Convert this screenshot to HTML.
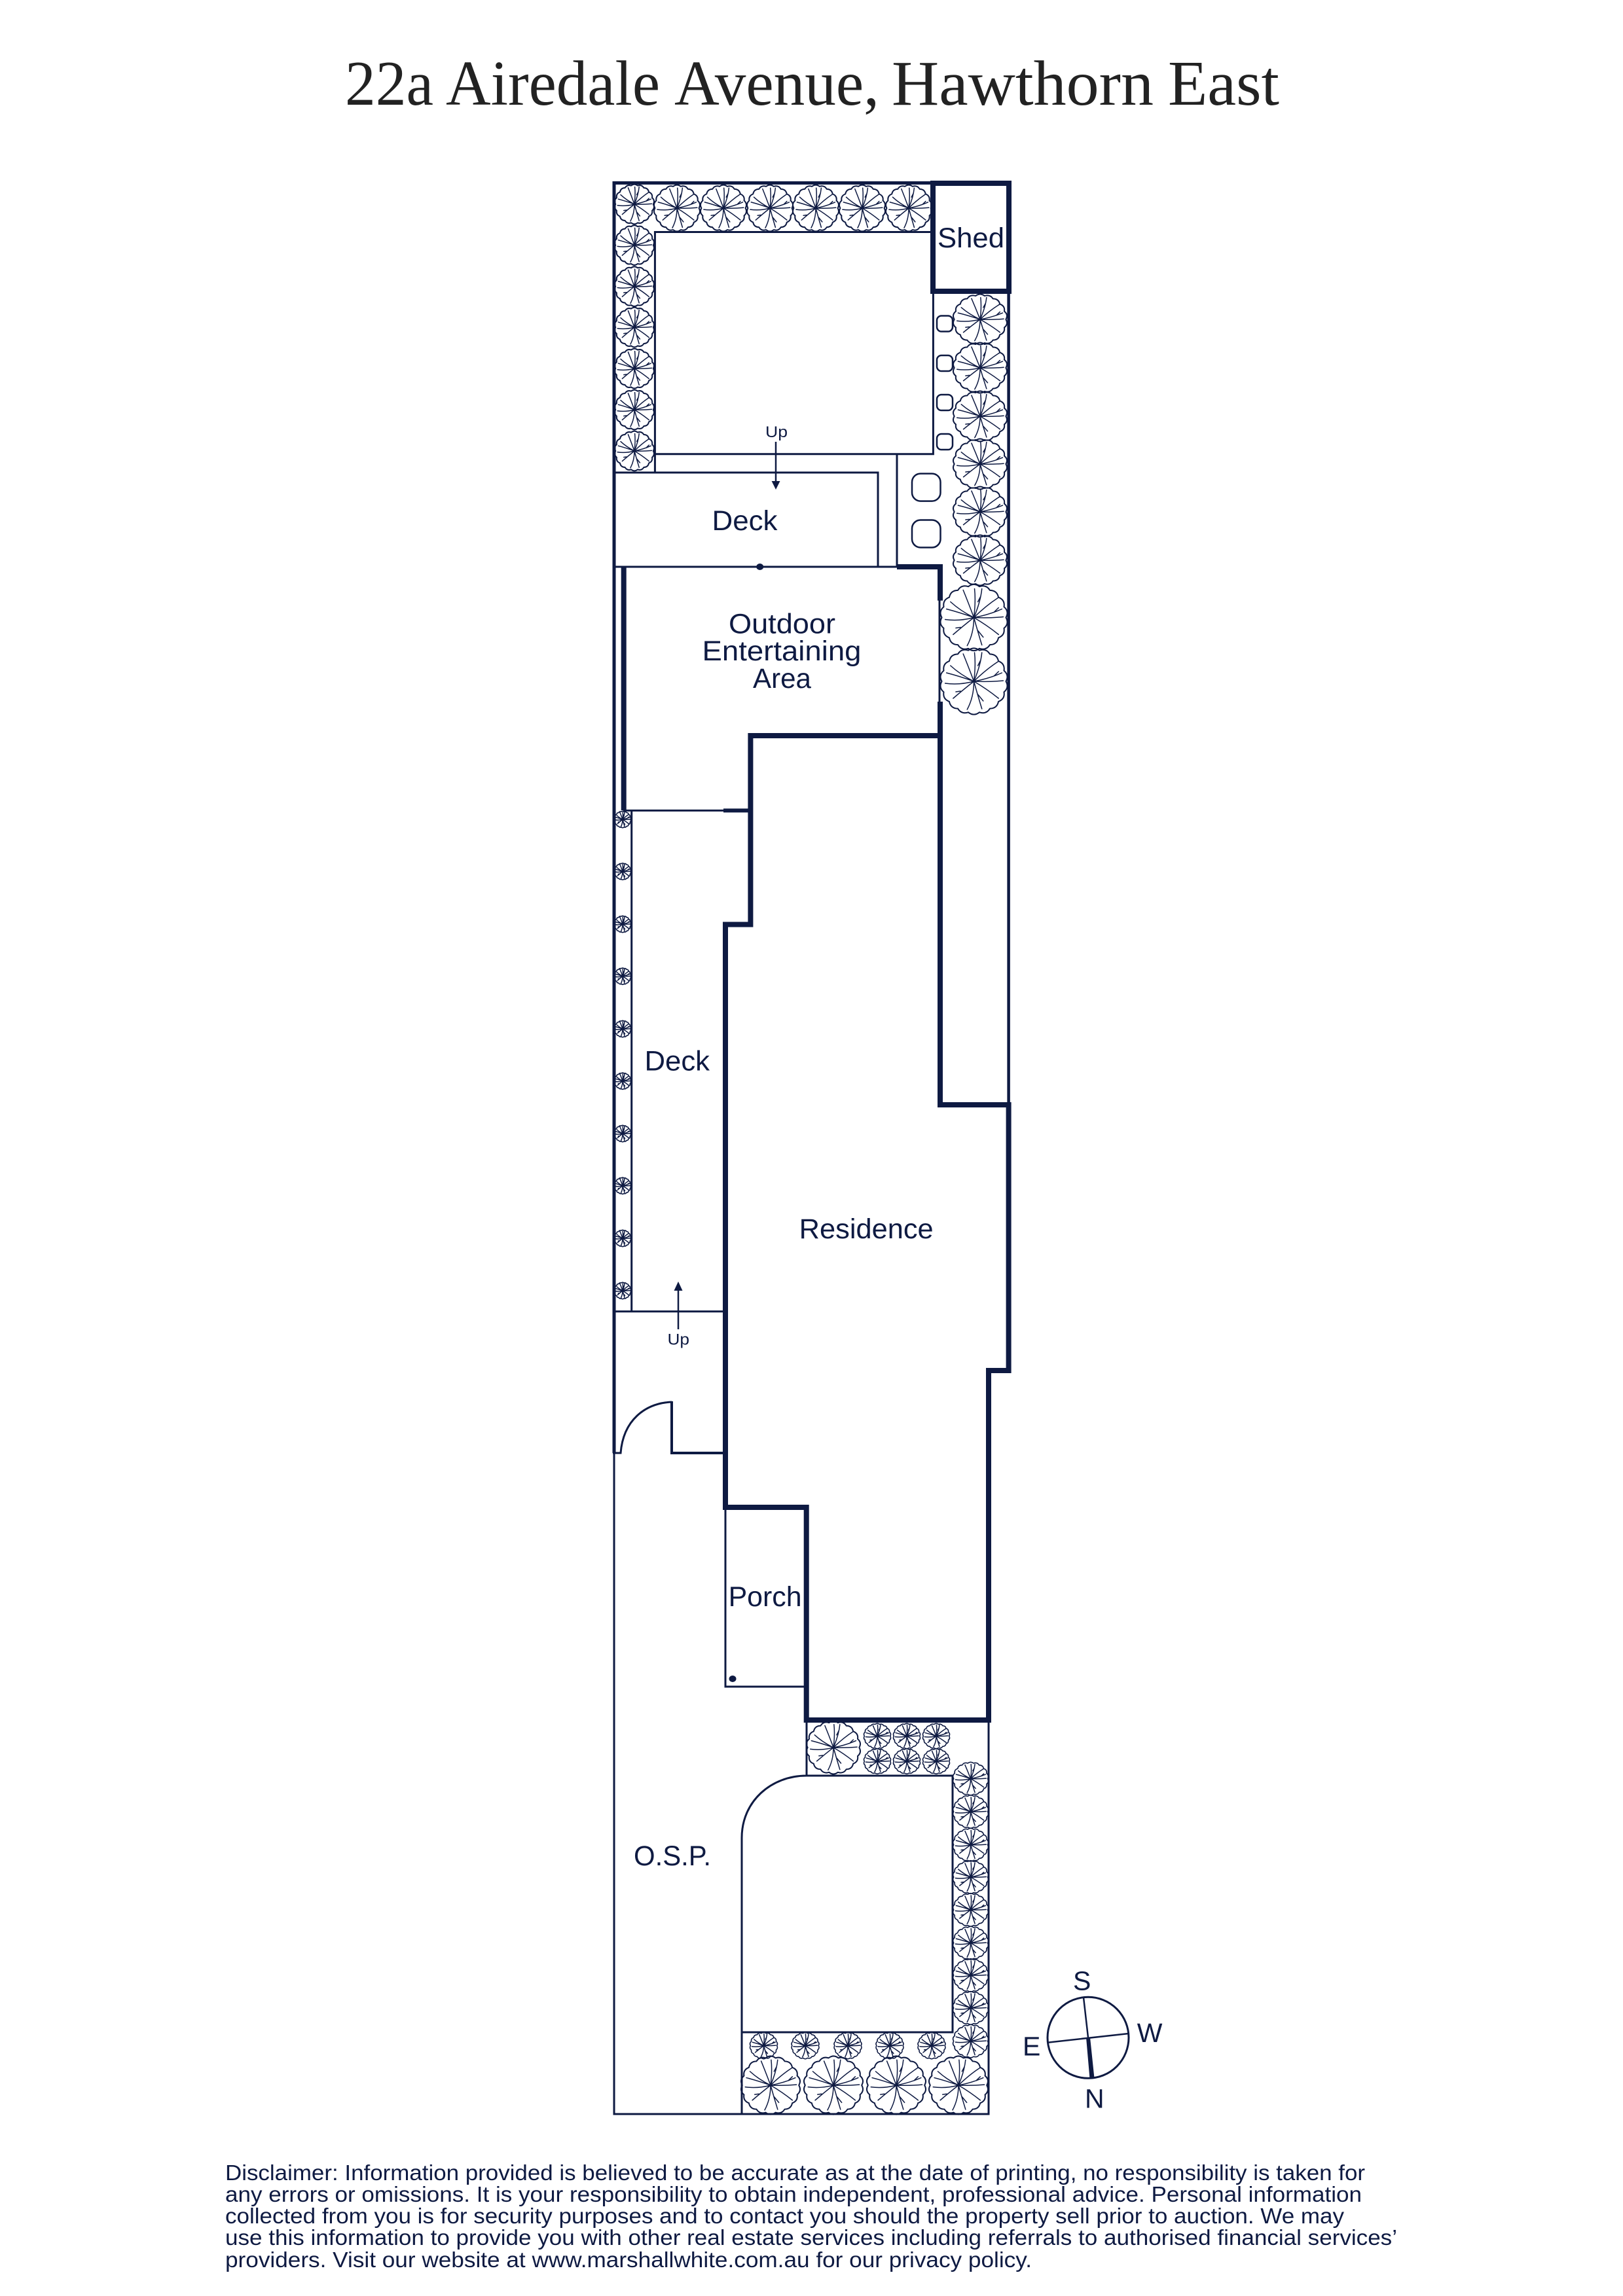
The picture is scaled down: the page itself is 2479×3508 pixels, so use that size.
<!DOCTYPE html>
<html>
<head>
<meta charset="utf-8">
<title>22a Airedale Avenue, Hawthorn East</title>
<style>
html,body{margin:0;padding:0;background:#fff;width:2479px;height:3508px;overflow:hidden}
svg{display:block}
text{font-family:"Liberation Sans",sans-serif;fill:#0e1a42}
.v{vector-effect:non-scaling-stroke}
.thin{fill:none;stroke:#0e1a42;stroke-width:3;stroke-linejoin:miter}
.thick{fill:none;stroke:#0e1a42;stroke-width:8;stroke-linejoin:miter;stroke-linecap:square}
.tr{fill:none;stroke:#0e1a42;stroke-width:2;stroke-linejoin:round;stroke-linecap:round}
.ts{stroke-width:1.6}
.b{stroke-width:1.500}
.ts .b{stroke-width:1.200}
.l{font-size:43px}
.u{font-size:24px}
.c{font-size:40px}
.d{font-size:33px}
text.h{font-family:"Liberation Serif",serif;font-size:98px;fill:#222}
</style>
</head>
<body>
<svg width="2479" height="3508" viewBox="0 0 2479 3508" xmlns="http://www.w3.org/2000/svg">
<defs>
<g id="t">
<path class="v" d="M48 0Q53.2 9.400 45.100 16.400Q46.800 27 36.800 30.900Q34.700 41.400 24 41.600Q18.500 50.700 8.300 47.300Q0 54 -8.300 47.300Q-18.500 50.700 -24 41.600Q-34.700 41.400 -36.800 30.900Q-46.800 27 -45.100 16.400Q-53.200 9.400 -48 0Q-53.200 -9.400 -45.100 -16.400Q-46.800 -27 -36.800 -30.900Q-34.700 -41.400 -24 -41.600Q-18.500 -50.700 -8.300 -47.300Q0 -54 8.300 -47.300Q18.500 -50.700 24 -41.600Q34.700 -41.400 36.800 -30.900Q46.800 -27 45.100 -16.400Q53.200 -9.400 48 0Z"/>
<path class="v b" d="M0 0Q22 1 44 -1M0 0Q22 -4 42 -13M30 -8L37 -15M0 0Q18 -18 36 -30M0 0Q10 -24 12 -44M6 -24L10 -32M0 0Q3 -25 1 -44M0 0Q-8 -22 -16 -42M0 0Q-20 -10 -35 -24M0 0Q-22 -8 -41 -13M0 0Q-22 6 -43 3M0 0Q-15 12 -31 26M-20 15L-27 16M0 0Q0 24 -10 43M0 0Q6 22 12 42M6 20L14 30M0 0Q20 12 37 26"/>
</g>
</defs>

<text class="h" x="527" y="160" textLength="135" lengthAdjust="spacingAndGlyphs">22a</text>
<text class="h" x="681" y="160" textLength="327" lengthAdjust="spacingAndGlyphs">Airedale</text>
<text class="h" x="1030" y="160" textLength="313" lengthAdjust="spacingAndGlyphs">Avenue,</text>
<text class="h" x="1362" y="160" textLength="400" lengthAdjust="spacingAndGlyphs">Hawthorn</text>
<text class="h" x="1784" y="160" textLength="170" lengthAdjust="spacingAndGlyphs">East</text>

<!-- boundary -->
<path d="M938 2220V277" fill="none" stroke="#0e1a42" stroke-width="5"/>
<path d="M936 279.500H1425" fill="none" stroke="#0e1a42" stroke-width="5"/>
<path d="M1540.600 445V1688" fill="none" stroke="#0e1a42" stroke-width="4.500"/>
<path class="thin" d="M938 2220V3230H1510V2628"/>
<!-- inner rear garden -->
<path class="thin" d="M1425 354.500H1000.400V722M1000.400 693.700H1425.400V445M938 722H1341V866M938 866H1370M1370 693.700V866"/>
<!-- shed -->
<rect class="thick" x="1425" y="280" width="116" height="165" style="stroke-linecap:butt"/>
<!-- outdoor thick -->
<path d="M1370 866H1436V917.600" fill="none" stroke="#0e1a42" stroke-width="8"/>
<path class="thin" d="M1435 917V1072"/>
<path d="M952.700 866V1238" fill="none" stroke="#0e1a42" stroke-width="8"/>
<!-- residence -->
<path d="M1436 1072V1688H1540.600V2094H1510V2628H1231.700V2303H1108V1412.500H1146.400V1124H1436" fill="none" stroke="#0e1a42" stroke-width="8" stroke-linejoin="miter"/>
<!-- side deck -->
<path class="thin" d="M952 1238.400H1105M964.700 1238V2003.700M938 2003.700H1108"/>
<path d="M1105 1238.400H1146" fill="none" stroke="#0e1a42" stroke-width="6"/>
<!-- door -->
<path class="thin" d="M936 2220H948C952 2170 985 2144 1026 2142"/>
<path class="thin" style="stroke-width:4" d="M1026 2141V2220H1108"/>
<!-- porch -->
<path class="thin" d="M1108 2303V2577H1232"/>
<ellipse cx="1119" cy="2565" rx="5.500" ry="5"  fill="#0e1a42"/>
<ellipse cx="1160.700" cy="866" rx="5.500" ry="5"  fill="#0e1a42"/>
<!-- front garden -->
<path class="thin" d="M1232 2628V2713M1133 3230V2808C1133 2752 1178 2713 1232 2713H1455V3105H1133"/>

<!-- stones -->
<g fill="none" stroke="#0e1a42" stroke-width="2.500">
<rect x="1431" y="482.500" width="24" height="24" rx="7"/>
<rect x="1431" y="543" width="24" height="24" rx="7"/>
<rect x="1431" y="603" width="24" height="24" rx="7"/>
<rect x="1431" y="663" width="24" height="24" rx="7"/>
<rect x="1393" y="723.600" width="43.500" height="42" rx="13"/>
<rect x="1393" y="794.500" width="43.500" height="42" rx="13"/>
</g>

<!-- trees -->
<g class="tr">
<use href="#t" transform="translate(969 312) scale(.6)"/>
<use href="#t" transform="translate(969 374.600) scale(.6)"/>
<use href="#t" transform="translate(969 437.700) scale(.6)"/>
<use href="#t" transform="translate(969 500) scale(.6)"/>
<use href="#t" transform="translate(969 563) scale(.6)"/>
<use href="#t" transform="translate(969 626) scale(.6)"/>
<use href="#t" transform="translate(969 689) scale(.6)"/>
<use href="#t" transform="translate(1034 318) scale(.7)"/>
<use href="#t" transform="translate(1105 318) scale(.7)"/>
<use href="#t" transform="translate(1176 318) scale(.7)"/>
<use href="#t" transform="translate(1246 318) scale(.7)"/>
<use href="#t" transform="translate(1317 318) scale(.7)"/>
<use href="#t" transform="translate(1388 318) scale(.7)"/>
<use href="#t" transform="translate(1497 488) scale(.82 .76)"/>
<use href="#t" transform="translate(1497 562) scale(.82 .76)"/>
<use href="#t" transform="translate(1497 636) scale(.82 .76)"/>
<use href="#t" transform="translate(1497 709) scale(.82 .76)"/>
<use href="#t" transform="translate(1497 782) scale(.82 .76)"/>
<use href="#t" transform="translate(1497 856) scale(.82 .76)"/>
<use href="#t" transform="translate(1487.500 943.500) scale(1.02 1)"/>
<use href="#t" transform="translate(1487.500 1041) scale(1.02 1)"/>
<use href="#t" transform="translate(1273 2670) scale(.82 .8)"/>
<use href="#t" transform="translate(1177 3186) scale(.9 .88)"/>
<use href="#t" transform="translate(1273 3186) scale(.9 .88)"/>
<use href="#t" transform="translate(1369 3186) scale(.9 .88)"/>
<use href="#t" transform="translate(1464 3186) scale(.9 .88)"/>
</g>
<g class="tr ts">
<use href="#t" transform="translate(1340 2652.500) scale(.41 .38)"/>
<use href="#t" transform="translate(1385 2652.500) scale(.41 .38)"/>
<use href="#t" transform="translate(1430 2652.500) scale(.41 .38)"/>
<use href="#t" transform="translate(1340 2691) scale(.41 .38)"/>
<use href="#t" transform="translate(1385 2691) scale(.41 .38)"/>
<use href="#t" transform="translate(1430 2691) scale(.41 .38)"/>
<use href="#t" transform="translate(1482.600 2717.600) scale(.54 .5)"/>
<use href="#t" transform="translate(1482.600 2768) scale(.54 .5)"/>
<use href="#t" transform="translate(1482.600 2818.600) scale(.54 .5)"/>
<use href="#t" transform="translate(1482.600 2868) scale(.54 .5)"/>
<use href="#t" transform="translate(1482.600 2918) scale(.54 .5)"/>
<use href="#t" transform="translate(1482.600 2968.600) scale(.54 .5)"/>
<use href="#t" transform="translate(1482.600 3018) scale(.54 .5)"/>
<use href="#t" transform="translate(1482.600 3068) scale(.54 .5)"/>
<use href="#t" transform="translate(1482.600 3118.600) scale(.54 .5)"/>
<use href="#t" transform="translate(1166.500 3125.500) scale(.42 .4)"/>
<use href="#t" transform="translate(1230 3125.500) scale(.42 .4)"/>
<use href="#t" transform="translate(1295 3125.500) scale(.42 .4)"/>
<use href="#t" transform="translate(1359 3125.500) scale(.42 .4)"/>
<use href="#t" transform="translate(1423 3125.500) scale(.42 .4)"/>
</g>
<g class="tr ts">
<use href="#t" transform="translate(951 1252) scale(.25)"/>
<use href="#t" transform="translate(951 1331.500) scale(.25)"/>
<use href="#t" transform="translate(951 1412) scale(.25)"/>
<use href="#t" transform="translate(951 1491.600) scale(.25)"/>
<use href="#t" transform="translate(951 1572) scale(.25)"/>
<use href="#t" transform="translate(951 1651.700) scale(.25)"/>
<use href="#t" transform="translate(951 1732) scale(.25)"/>
<use href="#t" transform="translate(951 1811.700) scale(.25)"/>
<use href="#t" transform="translate(951 1892) scale(.25)"/>
<use href="#t" transform="translate(951 1972) scale(.25)"/>
</g>

<!-- arrows -->
<path d="M1185 675V736" stroke="#0e1a42" stroke-width="2.500" fill="none"/>
<path d="M1178.600 735H1191.500L1185 748Z" fill="#0e1a42"/>
<path d="M1036 2031V1970" stroke="#0e1a42" stroke-width="2.500" fill="none"/>
<path d="M1029.500 1972H1042.500L1036 1958Z" fill="#0e1a42"/>

<!-- compass -->
<circle cx="1662" cy="3113.300" r="62" fill="none" stroke="#0e1a42" stroke-width="3"/>
<path d="M1655 3051.700L1662 3113M1600 3120.700L1724 3107" stroke="#0e1a42" stroke-width="2.500" fill="none"/>
<path d="M1659 3113H1665L1671.500 3175L1664.500 3176Z" fill="#0e1a42"/>

<!-- labels -->
<text class="l" x="1432" y="378" textLength="102" lengthAdjust="spacingAndGlyphs">Shed</text>
<text class="l" x="1087.500" y="810" textLength="100" lengthAdjust="spacingAndGlyphs">Deck</text>
<text class="l" x="1113" y="967.600" textLength="163" lengthAdjust="spacingAndGlyphs">Outdoor</text>
<text class="l" x="1072.500" y="1009" textLength="243" lengthAdjust="spacingAndGlyphs">Entertaining</text>
<text class="l" x="1150" y="1051" textLength="89" lengthAdjust="spacingAndGlyphs">Area</text>
<text class="l" x="984.500" y="1635.700" textLength="99.500" lengthAdjust="spacingAndGlyphs">Deck</text>
<text class="l" x="1220.700" y="1892" textLength="205" lengthAdjust="spacingAndGlyphs">Residence</text>
<text class="l" x="1112.600" y="2454" textLength="112" lengthAdjust="spacingAndGlyphs">Porch</text>
<text class="l" x="968" y="2850" textLength="118" lengthAdjust="spacingAndGlyphs">O.S.P.</text>
<text class="u" x="1169" y="668" textLength="34" lengthAdjust="spacingAndGlyphs">Up</text>
<text class="u" x="1019.500" y="2054.700" textLength="33.500" lengthAdjust="spacingAndGlyphs">Up</text>
<text class="c" x="1639" y="3040.700" style="font-size:41px">S</text>
<text class="c" x="1736.700" y="3120" style="font-size:41px">W</text>
<text class="c" x="1562" y="3140.700" style="font-size:41px">E</text>
<text class="c" x="1657" y="3220.700" style="font-size:41px">N</text>

<!-- disclaimer -->
<text class="d" x="344" y="3331" textLength="1741" lengthAdjust="spacingAndGlyphs">Disclaimer: Information provided is believed to be accurate as at the date of printing, no responsibility is taken for</text>
<text class="d" x="344" y="3364" textLength="1736" lengthAdjust="spacingAndGlyphs">any errors or omissions. It is your responsibility to obtain independent, professional advice. Personal information</text>
<text class="d" x="344" y="3397" textLength="1709" lengthAdjust="spacingAndGlyphs">collected from you is for security purposes and to contact you should the property sell prior to auction. We may</text>
<text class="d" x="344" y="3430" textLength="1790" lengthAdjust="spacingAndGlyphs">use this information to provide you with other real estate services including referrals to authorised financial services’</text>
<text class="d" x="344" y="3464" textLength="1232" lengthAdjust="spacingAndGlyphs">providers. Visit our website at www.marshallwhite.com.au for our privacy policy.</text>
</svg>
</body>
</html>
